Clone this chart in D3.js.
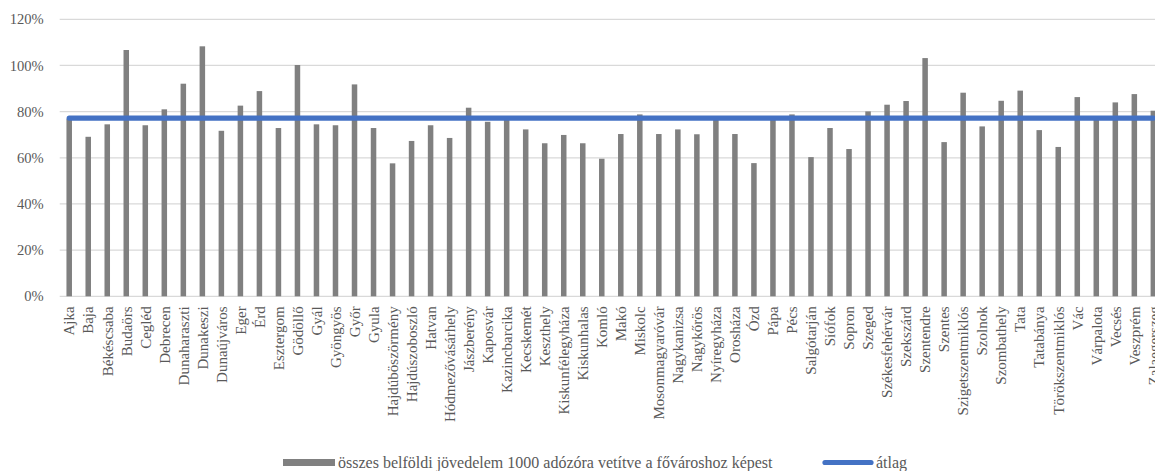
<!DOCTYPE html>
<html>
<head>
<meta charset="utf-8">
<script src="https://cdn.jsdelivr.net/npm/d3@7"></script>
<style>
  html, body { margin: 0; padding: 0; background: #fff; overflow: hidden; }
  svg { display: block; }
  text { font-family: "Liberation Serif", "Times New Roman", serif; fill: #595959; }
</style>
</head>
<body>
<div id="chart"></div>
<script>
// Towns (categories)
const varosok = [
  "Ajka", "Baja", "Békéscsaba", "Budaörs", "Cegléd", "Debrecen", "Dunaharaszti",
  "Dunakeszi", "Dunaújváros", "Eger", "Érd", "Esztergom", "Gödöllő", "Gyál",
  "Gyöngyös", "Győr", "Gyula", "Hajdúböszörmény", "Hajdúszoboszló", "Hatvan",
  "Hódmezővásárhely", "Jászberény", "Kaposvár", "Kazincbarcika", "Kecskemét",
  "Keszthely", "Kiskunfélegyháza", "Kiskunhalas", "Komló", "Makó", "Miskolc",
  "Mosonmagyaróvár", "Nagykanizsa", "Nagykőrös", "Nyíregyháza", "Orosháza", "Ózd",
  "Pápa", "Pécs", "Salgótarján", "Siófok", "Sopron", "Szeged", "Székesfehérvár",
  "Szekszárd", "Szentendre", "Szentes", "Szigetszentmiklós", "Szolnok",
  "Szombathely", "Tata", "Tatabánya", "Törökszentmiklós", "Vác", "Várpalota",
  "Vecsés", "Veszprém", "Zalaegerszeg"
];

// Total domestic income per 1000 taxpayers, relative to the capital (%)
const jovedelem = [
  77.0, 69.1, 74.5, 106.7, 74.1, 81.0, 92.1,
  108.3, 71.7, 82.6, 88.9, 72.9, 100.2, 74.5,
  74.1, 91.8, 72.9, 57.6, 67.3, 74.1,
  68.6, 81.7, 75.6, 76.6, 72.3,
  66.3, 69.9, 66.3, 59.6, 70.3, 78.8,
  70.3, 72.3, 70.2, 76.6, 70.3, 57.7,
  76.6, 78.8, 60.3, 72.9, 63.8, 80.1, 83.0,
  84.6, 103.2, 66.8, 88.2, 73.6,
  84.7, 89.1, 72.0, 64.7, 86.3, 76.6,
  84.0, 87.6, 80.4
];

// Average (%)
const atlag = 77.2;

// Y axis ticks (%)
const yTicks = [0, 20, 40, 60, 80, 100, 120];

// Legend labels
const legendLabels = ["összes belföldi jövedelem 1000 adózóra vetítve a fővároshoz képest", "átlag"];

const W = 1175, H = 471;
const margin = { left: 59.7, top: 19.3, bottom: 174.7 };
const plotRight = margin.left + 58 * 19.02;

const svg = d3.select("#chart").append("svg")
  .attr("width", W).attr("height", H);

const x = d3.scaleBand()
  .domain(varosok)
  .range([margin.left, plotRight])
  .paddingInner(0.71)
  .paddingOuter(0.355);

const y = d3.scaleLinear()
  .domain([0, 120])
  .range([H - margin.bottom, margin.top]);

// Horizontal gridlines
svg.append("g")
  .selectAll("line")
  .data(yTicks)
  .join("line")
  .attr("x1", margin.left).attr("x2", plotRight)
  .attr("y1", d => y(d)).attr("y2", d => y(d))
  .attr("stroke", "#d9d9d9").attr("stroke-width", 1.2);

// Y axis labels
const yAxis = d3.axisLeft(y)
  .tickValues(yTicks)
  .tickFormat(d => d + "%")
  .tickSize(0)
  .tickPadding(16);
svg.append("g")
  .attr("transform", `translate(${margin.left},0)`)
  .call(yAxis)
  .call(g => g.select(".domain").remove())
  .call(g => g.selectAll("text")
    .attr("font-size", "14.6px")
    .attr("fill", "#595959")
    .attr("font-family", "'Liberation Serif', 'Times New Roman', serif"));

// Bars
svg.append("g")
  .selectAll("rect")
  .data(varosok.map((v, i) => ({ varos: v, ertek: jovedelem[i] })))
  .join("rect")
  .attr("x", d => x(d.varos))
  .attr("width", x.bandwidth())
  .attr("y", d => y(d.ertek))
  .attr("height", d => y(0) - y(d.ertek))
  .attr("fill", "#808080");

// X axis category labels (rotated)
const xAxis = d3.axisBottom(x).tickSize(0).tickPadding(0);
svg.append("g")
  .attr("transform", `translate(0,${y(0)})`)
  .call(xAxis)
  .call(g => g.select(".domain").remove())
  .call(g => g.selectAll("text")
    .attr("font-size", "15px")
    .attr("fill", "#595959")
    .attr("font-family", "'Liberation Serif', 'Times New Roman', serif")
    .attr("text-anchor", "end")
    .attr("dy", "0.35em")
    .attr("transform", "translate(0,10) rotate(-90)")
    .attr("x", 0).attr("y", 0));

// Average line
const line = d3.line()
  .x(d => x(d) + x.bandwidth() / 2)
  .y(() => y(atlag));
svg.append("path")
  .datum(varosok)
  .attr("d", line)
  .attr("fill", "none")
  .attr("stroke", "#4472c4")
  .attr("stroke-width", 5.2)
  .attr("stroke-linecap", "round");

// Legend
const lg = svg.append("g");
const legendY = 462.5;
lg.append("rect")
  .attr("x", 283).attr("y", legendY - 3.5)
  .attr("width", 52).attr("height", 7)
  .attr("fill", "#808080");
lg.append("text")
  .attr("x", 338).attr("y", legendY)
  .attr("dy", "0.35em")
  .attr("font-size", "16px")
  .text(legendLabels[0]);
lg.append("line")
  .attr("x1", 825).attr("x2", 871)
  .attr("y1", legendY).attr("y2", legendY)
  .attr("stroke", "#4472c4").attr("stroke-width", 5.2)
  .attr("stroke-linecap", "round");
lg.append("text")
  .attr("x", 876).attr("y", legendY)
  .attr("dy", "0.35em")
  .attr("font-size", "16px")
  .text(legendLabels[1]);
</script>
</body>
</html>
